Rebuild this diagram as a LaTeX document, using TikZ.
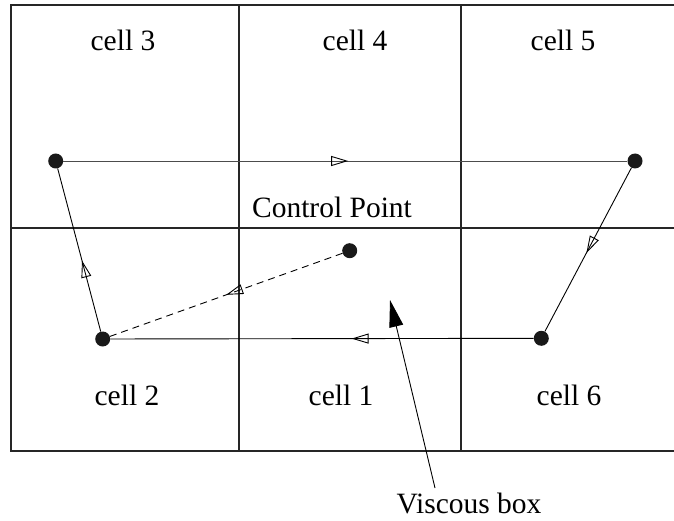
\documentclass[tikz,border=0pt]{standalone}
\usepackage{fontspec}
\setmainfont{Liberation Serif}
\usetikzlibrary{arrows.meta,decorations.markings}
\tikzset{
  gridline/.style={draw=black!85, line width=2pt},
  dotnode/.style={circle, fill=black!90, inner sep=0pt, minimum size=15pt},
  lbl/.style={font=\fontsize{29.5}{34}\selectfont, anchor=base, inner sep=0pt},
  conn/.style={draw=black, line width=0.9pt},
  midarrow/.style={postaction={decorate, decoration={markings,
      mark=at position #1 with {\arrow[line width=0.9pt, black]{Triangle[open, length=17pt, width=10pt]}}}}},
  leader/.style={draw=black, line width=0.9pt, -{Triangle[length=27pt, width=14pt]}}
}
\begin{document}
\begin{tikzpicture}[x=1pt,y=-1pt]
\useasboundingbox (0,0) rectangle (674,521);
% grid
\draw[gridline] (674,4.7) -- (10.7,4.7) -- (10.7,451) -- (674,451);
\draw[gridline] (10.7,228) -- (674,228);
\draw[gridline] (238.5,4.7) -- (238.5,451);
\draw[gridline] (461,4.7) -- (461,451);
% labels
\node[lbl] (c3) at (123,50.7) {cell 3};
\node[lbl] (c4) at (355,50.7) {cell 4};
\node[lbl] (c5) at (563,50.7) {cell 5};
\node[lbl] (cp) at (332,218) {Control Point};
\node[lbl] (c2) at (127,405) {cell 2};
\node[lbl] (c1) at (341,405) {cell 1};
\node[lbl] (c6) at (569,405) {cell 6};
\node[lbl] (vb) at (469,513) {Viscous box};
% points
\node[dotnode] (p3) at (55.7,161) {};
\node[dotnode] (p5) at (635,161) {};
\node[dotnode] (p6) at (541.3,338.3) {};
\node[dotnode] (p2) at (102.7,339) {};
\node[dotnode] (pc) at (349.7,250.7) {};
% connectors
\path[conn, draw=black!70, midarrow=0.505] (p3) -- (p5);
\path[conn, midarrow=0.52] (p5) -- (p6);
\path[conn, midarrow=0.43] (p6) -- (p2);
\path[conn, midarrow=0.435] (p2) -- (p3);
\path[conn, dash pattern=on 7pt off 5pt, midarrow=0.5] (pc) -- (p2);
% viscous box leader
\coordinate (vbstart) at (435,488);
\coordinate (vbtip) at (390,300);
\draw[leader] (vbstart) -- (vbtip);
\end{tikzpicture}
\end{document}
